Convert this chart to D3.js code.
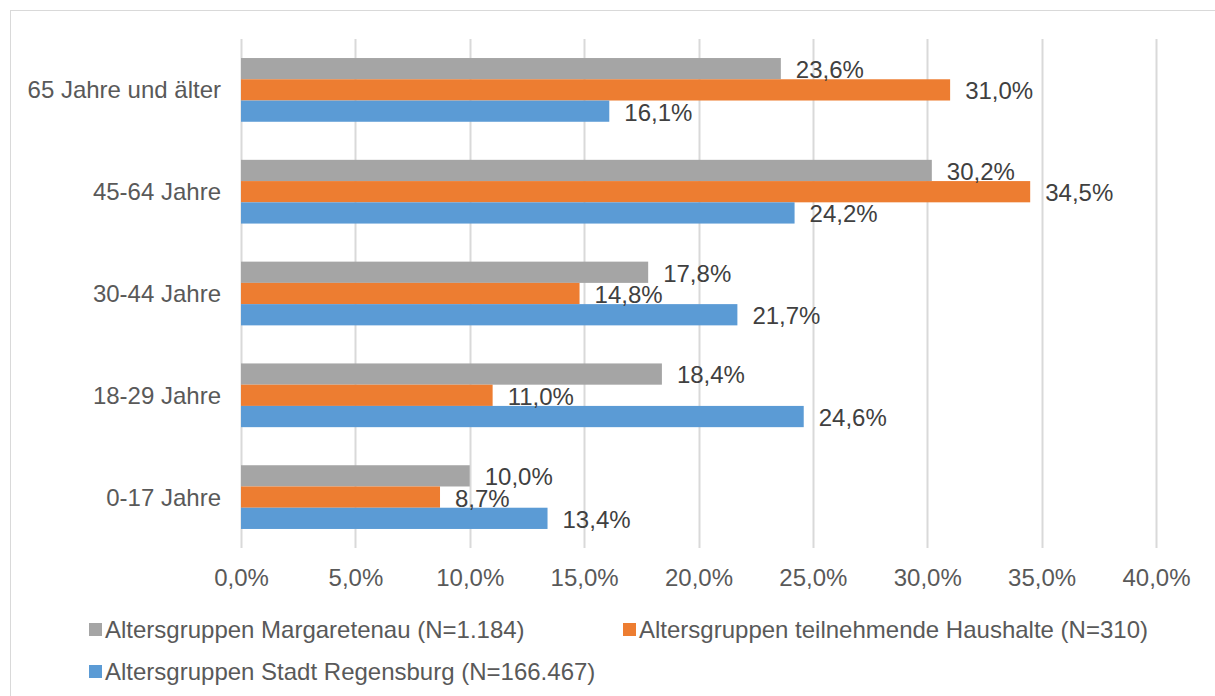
<!DOCTYPE html>
<html>
<head>
<meta charset="utf-8">
<script src="https://cdn.jsdelivr.net/npm/d3@7"></script>
<style>
  html, body { margin: 0; padding: 0; background: #fff; }
  svg { display: block; font-family: "Liberation Sans", Arial, sans-serif; }
</style>
</head>
<body>
<svg id="chart" width="1215" height="696"></svg>
<script>
// Age groups, top to bottom
const categories = ["65 Jahre und älter", "45-64 Jahre", "30-44 Jahre", "18-29 Jahre", "0-17 Jahre"];

const seriesNames = [
  "Altersgruppen Margaretenau (N=1.184)",
  "Altersgruppen teilnehmende Haushalte (N=310)",
  "Altersgruppen Stadt Regensburg (N=166.467)"
];
const seriesColors = ["#A5A5A5", "#ED7D31", "#5B9BD5"];

// Shares in percent, in the same order as categories
const margaretenau = [23.6, 30.2, 17.8, 18.4, 10.0];
const haushalte    = [31.0, 34.5, 14.8, 11.0, 8.7];
const regensburg   = [16.1, 24.2, 21.7, 24.6, 13.4];

const tickValues = [0, 5, 10, 15, 20, 25, 30, 35, 40];

const series = [margaretenau, haushalte, regensburg];
const fmt = v => v.toFixed(1).replace(".", ",") + "%";
const FONT = 24;

const svg = d3.select("#chart");

// Outer frame
svg.append("rect")
  .attr("x", 10.5).attr("y", 10.5)
  .attr("width", 1220).attr("height", 700)
  .attr("fill", "none").attr("stroke", "#D9D9D9").attr("stroke-width", 1);

const x = d3.scaleLinear().domain([0, 40]).range([241, 1156]);
const y = d3.scaleBand().domain(categories).range([39, 548])
  .paddingInner(0.374).paddingOuter(0.187);
const ySub = d3.scaleBand().domain(d3.range(series.length)).range([0, y.bandwidth()]);

// Vertical gridlines
svg.append("g").selectAll("line")
  .data(tickValues)
  .join("line")
  .attr("x1", d => Math.round(x(d)) + 0.5).attr("x2", d => Math.round(x(d)) + 0.5)
  .attr("y1", 39).attr("y2", 548)
  .attr("stroke", "#D9D9D9").attr("stroke-width", 2);

// X axis tick labels
const xAxis = d3.axisBottom(x).tickValues(tickValues).tickSize(0).tickPadding(0)
  .tickFormat(d => fmt(d));
const gx = svg.append("g").attr("transform", "translate(0,570)").call(xAxis);
gx.select(".domain").remove();
gx.selectAll("text")
  .attr("dy", "0.35em").attr("y", 8)
  .attr("font-size", FONT).attr("font-family", "Liberation Sans, Arial, sans-serif")
  .attr("fill", "#595959");

// Category labels
const yAxis = d3.axisLeft(y).tickSize(0).tickPadding(0);
const gy = svg.append("g").attr("transform", "translate(221,0)").call(yAxis);
gy.select(".domain").remove();
gy.selectAll("text")
  .attr("dy", "0.35em")
  .attr("font-size", FONT).attr("font-family", "Liberation Sans, Arial, sans-serif")
  .attr("fill", "#595959");

// Bars and value labels
const rows = [];
categories.forEach((c, i) => {
  series.forEach((s, j) => rows.push({ cat: c, s: j, v: s[i] }));
});

const groups = svg.append("g");
groups.selectAll("rect")
  .data(rows)
  .join("rect")
  .attr("x", x(0))
  .attr("y", d => y(d.cat) + ySub(d.s))
  .attr("width", d => x(d.v) - x(0))
  .attr("height", ySub.bandwidth())
  .attr("fill", d => seriesColors[d.s]);

groups.selectAll("text")
  .data(rows)
  .join("text")
  .attr("x", d => x(d.v) + 15)
  .attr("y", d => y(d.cat) + ySub(d.s) + ySub.bandwidth() / 2 + 1)
  .attr("dy", "0.35em")
  .attr("font-size", FONT)
  .attr("fill", "#404040")
  .text(d => fmt(d.v));

// Legend
const legendPos = [[89, 629.5], [623, 629.5], [89, 671.5]];
const legend = svg.append("g").selectAll("g")
  .data(seriesNames)
  .join("g")
  .attr("transform", (d, i) => `translate(${legendPos[i][0]},${legendPos[i][1]})`);
legend.append("rect")
  .attr("x", 0).attr("y", -6.5).attr("width", 13).attr("height", 13)
  .attr("fill", (d, i) => seriesColors[i]);
legend.append("text")
  .attr("x", 16).attr("y", 0).attr("dy", "0.35em")
  .attr("font-size", FONT).attr("fill", "#595959")
  .text(d => d);
</script>
</body>
</html>
